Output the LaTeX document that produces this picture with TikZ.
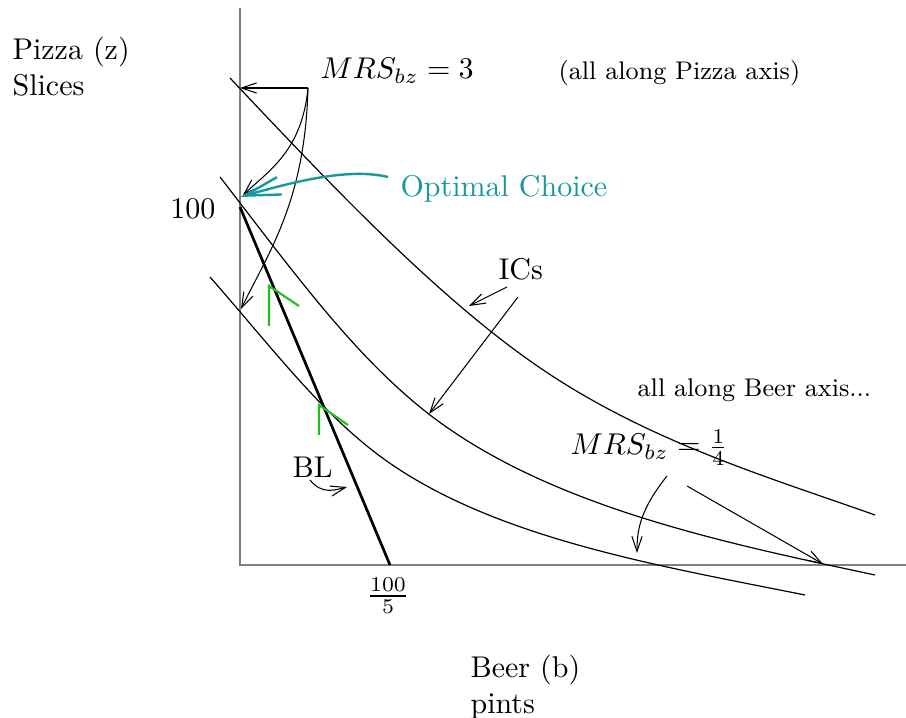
\documentclass[tikz,border=0pt]{standalone}
\usepackage{amsmath}
\usepackage{xcolor}
\usetikzlibrary{arrows.meta}
\definecolor{axisgray}{HTML}{7F7F7F}
\definecolor{optc}{HTML}{16999A}
\definecolor{tanc}{HTML}{1FBF1F}
\tikzset{
  axis/.style={draw=axisgray, line width=0.6pt},
  ic/.style={draw=black, line width=0.4pt},
  budget/.style={draw=black, line width=0.9pt},
  arr/.style={-{Straight Barb[length=5pt,width=3.4pt]}, line width=0.35pt},
  optarr/.style={-{Straight Barb[length=12pt,width=6pt]}, draw=optc, line width=0.8pt},
  slope/.style={draw=tanc, line width=0.7pt},
  lbl/.style={inner sep=0pt, anchor=base west},
  note/.style={inner sep=0pt, anchor=base west, font=\fontsize{8.5}{10}\selectfont}
}

\begin{document}
\begin{tikzpicture}[x=0.3333pt,y=-0.3333pt]
    \useasboundingbox (0,0) rectangle (906,718);

    % ===== axes =====
    \coordinate (origin) at (240,565);
    \coordinate (ytop) at (240,8);
    \coordinate (xend) at (906,565);
    \draw[axis] (ytop) -- (origin) -- (xend);
    \node[anchor=north west, align=left, inner sep=0pt] (zlab) at (12,36) {Pizza (z)\\Slices};
    \node[anchor=north west, align=left, inner sep=0pt] (blab) at (470,654) {Beer (b)\\pints};
    \node[inner sep=0pt, anchor=base east] (hundred) at (216,219) {100};
    \node[inner sep=0pt] (bmax) at (388,596) {$\frac{100}{5}$};

    % ===== budget line =====
    \coordinate (opt) at (240,197);
    \coordinate (bltop) at (240,207);
    \coordinate (blend) at (390,565);
    \draw[budget] (bltop) -- (blend);

    % ===== indifference curves =====
    \draw[ic] (230,78) .. controls (330,184) and (433,293) .. (533,363)
              .. controls (643,440) and (765,476) .. (875,515);
    \draw[ic] (220,177) .. controls (295,274) and (355,357) .. (430,415)
              .. controls (550,507) and (725,543) .. (875,575);
    \draw[ic] (210,277) .. controls (280,357) and (330,425) .. (400,470)
              .. controls (510,541) and (665,567) .. (805,595);

    % ===== slopes where BL meets ICs =====
    \draw[slope] (269,326) -- (269,286) -- (299,306);
    \draw[slope] (319,435) -- (319,405) -- (348,425);

    % ===== MRS on Pizza axis =====
    \node[lbl] (mrstop) at (320,79) {$MRS_{bz} = 3$};
    \node[note] (pizzaaxis) at (558,80) {(all along Pizza axis)};
    \coordinate (corner) at (308,88);
    \coordinate (ptop) at (240,88);
    \coordinate (plow) at (241,309);
    \draw[arr] (corner) -- (ptop);
    \draw[arr] (corner) .. controls (302,150) and (270,170) .. (243,195);
    \draw[arr] (corner) .. controls (305,200) and (270,250) .. (plow);

    % ===== optimal choice =====
    \node[lbl, text=optc] (optlab) at (400,197) {Optimal Choice};
    \coordinate (optstart) at (388,177);
    \draw[optarr] (optstart) .. controls (350,168) and (300,180) .. (opt);

    % ===== ICs label =====
    \node[lbl] (ics) at (498,280) {ICs};
    \coordinate (icsa) at (507,287);
    \coordinate (icsb) at (518,297);
    \draw[arr] (icsa) -- (469,306);
    \draw[arr] (icsb) -- (429,414);

    % ===== BL label =====
    \node[lbl] (bl) at (292,478) {BL};
    \coordinate (blstart) at (310,480);
    \draw[arr] (blstart) .. controls (322,495) and (335,490) .. (347,487);

    % ===== MRS on Beer axis =====
    \node[note] (beeraxis) at (637,397) {all along Beer axis...};
    \node[lbl] (mrslow) at (570,455) {$MRS_{bz} = \frac{1}{4}$};
    \coordinate (mrsa) at (667,476);
    \coordinate (mrsb) at (687,486);
    \draw[arr] (mrsa) .. controls (640,510) and (637,530) .. (637,553);
    \draw[arr] (mrsb) -- (823,564);
  \end{tikzpicture}
\end{document}
